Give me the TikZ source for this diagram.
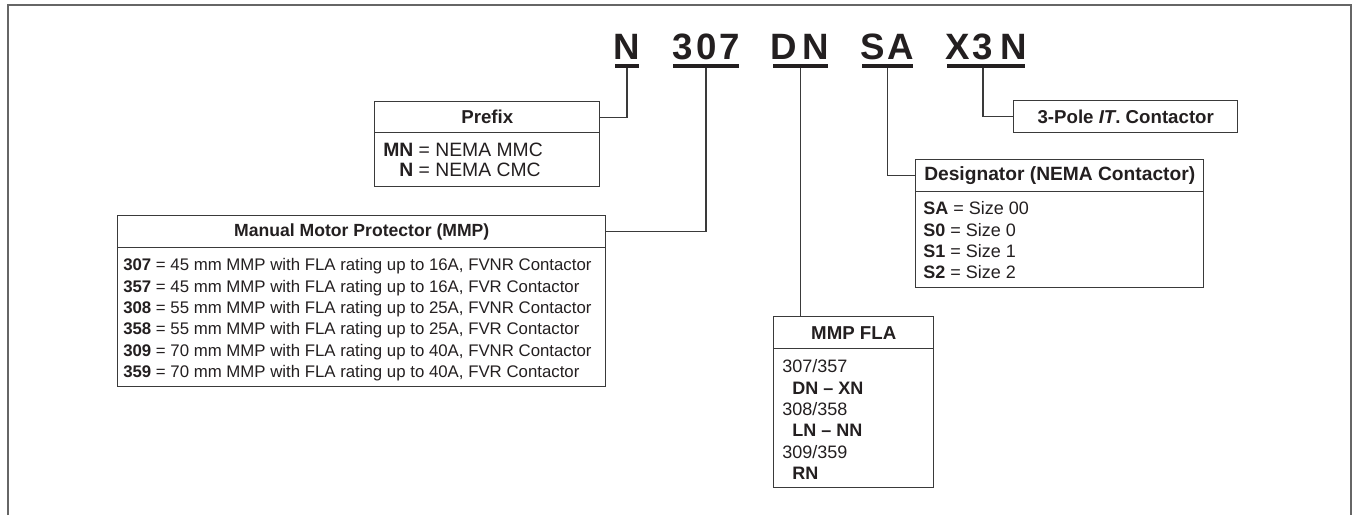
\documentclass[tikz,border=0pt]{standalone}
\usepackage{fontspec}
\setmainfont{Liberation Sans}
\definecolor{linegray}{HTML}{3A3A3A}
\definecolor{framegray}{HTML}{666666}
\definecolor{txt}{HTML}{231F20}
\begin{document}
\begin{tikzpicture}[x=0.75pt,y=-0.75pt,
  every node/.style={text=txt},
  boxpart/.style={draw=linegray, line width=1.1pt, inner sep=0pt, anchor=north west},
  titlefont/.style={font=\fontsize{14}{16}\selectfont\bfseries},
  bodytext/.style={anchor=north west, inner sep=0pt, align=left, font=\fontsize{13.5}{16}\selectfont},
  codeletter/.style={anchor=base, inner sep=0pt, font=\fontsize{27.5}{30}\selectfont\bfseries},
  ulbar/.style={fill=txt, inner sep=0pt, minimum height=2.6pt},
  conn/.style={draw=linegray, line width=1.1pt},
  frameline/.style={draw=framegray, line width=1.6pt}]
\useasboundingbox (0,0) rectangle (1356,515);
% outer frame (open at the bottom)
\draw[frameline] (8,515) -- (8,5) -- (1351,5) -- (1351,515);

% catalog code letters
\node[codeletter] (lN)  at (627,59.5) {N};
\node[codeletter] (l3)  at (683,59.5) {3};
\node[codeletter] (l0)  at (706.5,59.5) {0};
\node[codeletter] (l7)  at (729.5,59.5) {7};
\node[codeletter] (lD)  at (783.5,59.5) {D};
\node[codeletter] (lN2) at (816,59.5) {N};
\node[codeletter] (lS)  at (873,59.5) {S};
\node[codeletter] (lA)  at (900.5,59.5) {A};
\node[codeletter] (lX)  at (957.5,59.5) {X};
\node[codeletter] (l33) at (982.5,59.5) {3};
\node[codeletter] (lN3) at (1013.5,59.5) {N};

% underlines
\node[ulbar, minimum width=18pt]    (uN)   at (627,66) {};
\node[ulbar, minimum width=49.5pt]  (u307) at (706,66) {};
\node[ulbar, minimum width=41.25pt] (uDN)  at (800.5,66) {};
\node[ulbar, minimum width=38.25pt] (uSA)  at (887.5,66) {};
\node[ulbar, minimum width=58.5pt]  (uX)   at (986,66) {};

% Prefix box
\node[boxpart, titlefont, minimum width=168.75pt, minimum height=23.25pt] (prefT) at (374,101) {Prefix};
\node[boxpart, minimum width=168.75pt, minimum height=40.5pt] (prefB) at (374,132) {};
\node[bodytext, font=\fontsize{14.5}{15}\selectfont] (prefX) at ([shift={(9,10.5)}]prefB.north west)
  {\textbf{MN} = NEMA MMC\\\hphantom{\textbf{M}}\textbf{N} = NEMA CMC};

% Manual Motor Protector box
\node[boxpart, titlefont, font=\fontsize{13.2}{16}\selectfont\bfseries, minimum width=366pt, minimum height=24pt] (mmpT) at (117,215) {Manual Motor Protector (MMP)};
\node[boxpart, minimum width=366pt, minimum height=104.25pt] (mmpB) at (117,247) {};
\node[bodytext, font=\fontsize{12.6}{16}\selectfont] (mmpX) at ([shift={(6,11.5)}]mmpB.north west)
  {\textbf{307} = 45 mm MMP with FLA rating up to 16A, FVNR Contactor\\
   \textbf{357} = 45 mm MMP with FLA rating up to 16A, FVR Contactor\\
   \textbf{308} = 55 mm MMP with FLA rating up to 25A, FVNR Contactor\\
   \textbf{358} = 55 mm MMP with FLA rating up to 25A, FVR Contactor\\
   \textbf{309} = 70 mm MMP with FLA rating up to 40A, FVNR Contactor\\
   \textbf{359} = 70 mm MMP with FLA rating up to 40A, FVR Contactor};

% 3-Pole box
\node[boxpart, titlefont, minimum width=168pt, minimum height=24pt] (poleT) at (1013,100) {3-Pole \textit{IT}. Contactor};

% Designator box
\node[boxpart, titlefont, font=\fontsize{14.4}{16}\selectfont\bfseries, minimum width=216pt, minimum height=24pt] (desT) at (915,159) {Designator (NEMA Contactor)};
\node[boxpart, minimum width=216pt, minimum height=72pt] (desB) at (915,191) {};
\node[bodytext] (desX) at ([shift={(8,10.5)}]desB.north west)
  {\textbf{SA} = Size 00\\\textbf{S0} = Size 0\\\textbf{S1} = Size 1\\\textbf{S2} = Size 2};

% MMP FLA box
\node[boxpart, titlefont, minimum width=120pt, minimum height=24pt] (flaT) at (773,316) {MMP FLA};
\node[boxpart, minimum width=120pt, minimum height=104.25pt] (flaB) at (773,348) {};
\node[bodytext] (flaX) at ([shift={(9,11.5)}]flaB.north west)
  {307/357\\\hspace*{7.5pt}\textbf{DN – XN}\\308/358\\\hspace*{7.5pt}\textbf{LN – NN}\\309/359\\\hspace*{7.5pt}\textbf{RN}};

% connectors
\draw[conn] (uN.south) |- (prefT.east);
\draw[conn] (u307.south) |- (mmpT.east);
\draw[conn] (uDN.south) -- (uDN.south |- flaT.north);
\draw[conn] (uSA.south) |- (desT.west);
\draw[conn] ([xshift=-2.25pt]uX.south) |- (poleT.west);
\end{tikzpicture}
\end{document}
